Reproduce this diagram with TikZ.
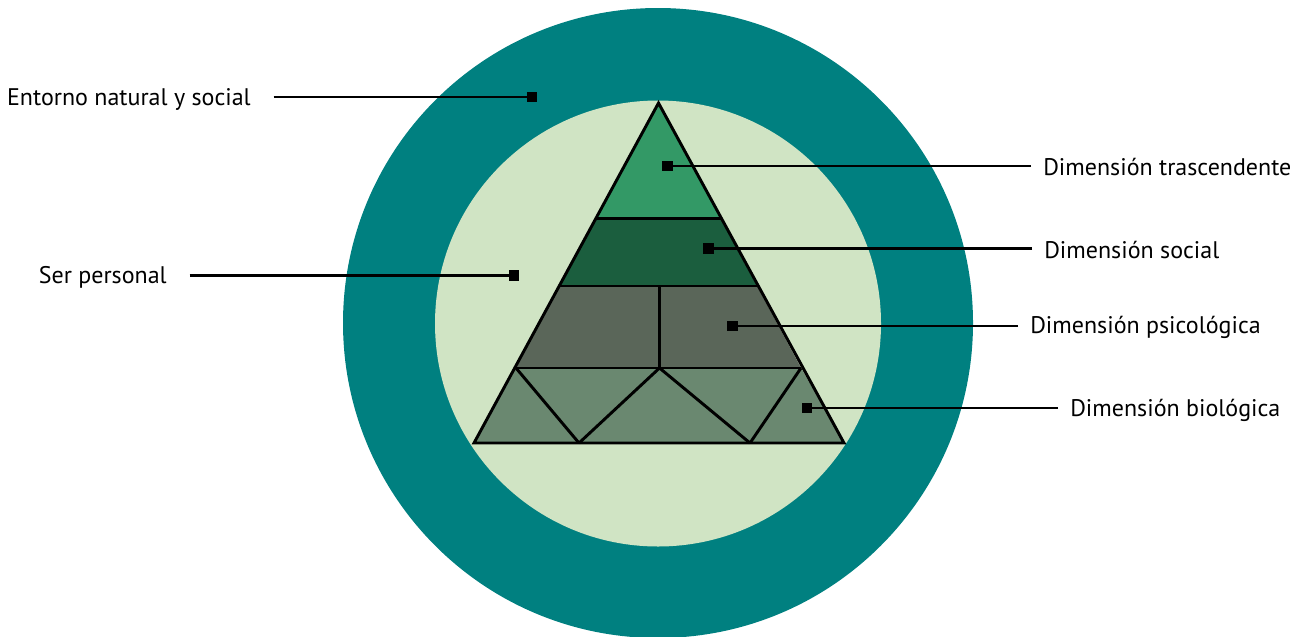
\documentclass[tikz,border=0pt]{standalone}
\usepackage{fontspec}
\setmainfont{PT Sans}
\usetikzlibrary{positioning}
\definecolor{outerteal}{RGB}{0,128,128}
\definecolor{innerpale}{RGB}{208,228,196}
\definecolor{layerA}{RGB}{51,153,102}
\definecolor{layerB}{RGB}{27,94,62}
\definecolor{layerC}{RGB}{90,102,89}
\definecolor{layerD}{RGB}{106,136,112}

\begin{document}
\begin{tikzpicture}[x=0.75pt, y=-0.75pt,
    every node/.style={font=\fontsize{18}{21}\selectfont, inner sep=0pt},
    marker/.style={fill=black, minimum size=8pt},
    lead/.style={line width=2.2pt}]

  \useasboundingbox (0,0) rectangle (1308,636);
  \clip (0,0) rectangle (1308,636);

  % Circles
  \fill[outerteal] (658,323) circle (315);
  \fill[innerpale] (658,323.5) circle (223);

  % Pyramid corners
  \coordinate (T) at (658.5,103);
  \coordinate (L1) at (596.5,218.5);  \coordinate (R1) at (720.5,218.5);
  \coordinate (L2) at (559.5,286);    \coordinate (R2) at (757,286);
  \coordinate (L3) at (516,368);      \coordinate (R3) at (801,368);
  \coordinate (L4) at (474,443);      \coordinate (R4) at (844,443);
  \coordinate (M2) at (659.5,286);    \coordinate (M3) at (659.5,368);
  \coordinate (B1) at (579,443);      \coordinate (B2) at (750,443);

  % Layers
  \fill[layerA] (T) -- (R1) -- (L1) -- cycle;
  \fill[layerB] (L1) -- (R1) -- (R2) -- (L2) -- cycle;
  \fill[layerC] (L2) -- (R2) -- (R3) -- (L3) -- cycle;
  \fill[layerD] (L3) -- (R3) -- (R4) -- (L4) -- cycle;

  % Outlines
  \draw[line width=2.2pt, line join=miter] (T) -- (R4) -- (L4) -- cycle;
  \foreach \i/\j in {L1/R1, L2/R2, L3/R3, M2/M3, L3/B1, B1/M3, M3/B2, B2/R3}
    \draw[line width=2.2pt] (\i) -- (\j);

  % Markers
  \node[marker] (mEnt) at (532,97) {};
  \node[marker] (mSer) at (514,275.5) {};
  \node[marker] (mTra) at (667.5,166) {};
  \node[marker] (mSoc) at (708.5,248.5) {};
  \node[marker] (mPsi) at (732.5,326) {};
  \node[marker] (mBio) at (807,408) {};

  % Labels
  \node[anchor=east] (ent) at (251,99) {Entorno natural y social};
  \node[anchor=east] (ser) at (167,277) {Ser personal};
  \node[anchor=west] (tra) at (1043,167) {Dimensión trascendente};
  \node[anchor=west] (soc) at (1044,250) {Dimensión social};
  \node[anchor=west] (psi) at (1030,327) {Dimensión psicológica};
  \node[anchor=west] (bio) at (1070,410) {Dimensión biológica};

  % Leaders
  \foreach \i/\j in {ent/mEnt, ser/mSer}
    \draw[lead, shorten <=17pt] (\i.east |- \j) -- (\j.center);
  \foreach \i/\j in {tra/mTra, soc/mSoc, psi/mPsi, bio/mBio}
    \draw[lead, shorten <=9pt] (\i.west |- \j) -- (\j.center);

\end{tikzpicture}
\end{document}
